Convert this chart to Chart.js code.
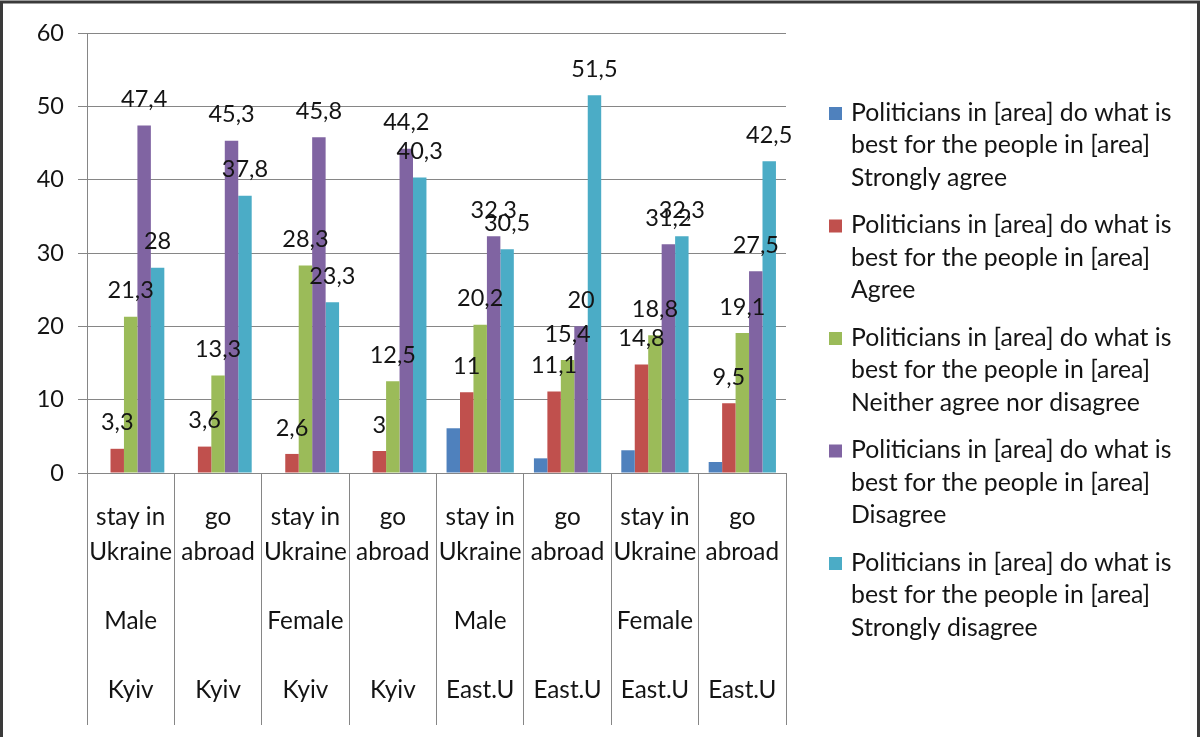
<!DOCTYPE html>
<html>
<head>
<meta charset="utf-8">
<script src="https://cdn.jsdelivr.net/npm/chart.js@4"></script>
<style>
  html, body { margin: 0; padding: 0; background: #fff; }
  #wrap { width: 1203px; height: 737px; }
</style>
</head>
<body>
<div id="wrap"><canvas id="ctx"></canvas></div>
<script>
// categories
const plans = ['stay in Ukraine', 'go abroad', 'stay in Ukraine', 'go abroad', 'stay in Ukraine', 'go abroad', 'stay in Ukraine', 'go abroad']
const genders = ['Male', '', 'Female', '', 'Male', '', 'Female', '']
const regions = ['Kyiv', 'Kyiv', 'Kyiv', 'Kyiv', 'East.U', 'East.U', 'East.U', 'East.U']

// series
const question = 'Politicians in [area] do what is best for the people in [area]'
const responses = ['Strongly agree', 'Agree', 'Neither agree nor disagree', 'Disagree', 'Strongly disagree']
const stronglyAgree = [0, 0, 0, 0, 6.1, 2, 3.1, 1.5]
const agree = [3.3, 3.6, 2.6, 3, 11, 11.1, 14.8, 9.5]
const neither = [21.3, 13.3, 28.3, 12.5, 20.2, 15.4, 18.8, 19.1]
const disagree = [47.4, 45.3, 45.8, 44.2, 32.3, 20, 31.2, 27.5]
const stronglyDisagree = [28, 37.8, 23.3, 40.3, 30.5, 51.5, 32.3, 42.5]

// y axis
const yTicks = [0, 10, 20, 30, 40, 50, 60]

const colors = ['#4F81BD', '#C0504D', '#9BBB59', '#8064A2', '#4BACC6']
const FONT = 'Lato'
const TEXT = '#141414'
const GRID = '#868686'

const wrap2 = s => {
  const i = s.lastIndexOf(' ')
  return [s.slice(0, i), s.slice(i + 1)]
}

const labels = plans.map((p, i) => [...wrap2(p), '', genders[i], '', regions[i]])

const splitAt = question.indexOf(' best')
const legendLines = responses.map(r => [question.slice(0, splitAt), question.slice(splitAt + 1), r])

const seriesValues = [stronglyAgree, agree, neither, disagree, stronglyDisagree]

const frame = {
  id: 'frame',
  beforeDraw: (chart) => {
    const {ctx, width, height} = chart
    ctx.save()
    ctx.fillStyle = '#fff'
    ctx.fillRect(0, 0, width, height)
    ctx.restore()
  },
  afterDraw: (chart) => {
    const {ctx, width, height} = chart
    ctx.save()
    ctx.strokeStyle = '#3a3a3a'
    ctx.lineWidth = 3
    ctx.beginPath()
    ctx.moveTo(1.5, height)
    ctx.lineTo(1.5, 2)
    ctx.lineTo(width - 4.5, 2)
    ctx.lineTo(width - 4.5, height)
    ctx.stroke()
    ctx.restore()
  }
}

const valueLabels = {
  id: 'valueLabels',
  afterDatasetsDraw: (chart) => {
    const {ctx} = chart
    ctx.save()
    ctx.font = '23.5px ' + FONT
    ctx.fillStyle = TEXT
    ctx.textAlign = 'center'
    ctx.textBaseline = 'middle'
    chart.data.datasets.forEach((ds, i) => {
      if (ds.showValues === false) return
      chart.getDatasetMeta(i).data.forEach((bar, j) => {
        ctx.fillText(String(ds.data[j]).replace('.', ','), bar.x, bar.y - 26)
      })
    })
    ctx.restore()
  }
}

const sideLegend = {
  id: 'sideLegend',
  afterDraw: (chart) => {
    const {ctx} = chart
    const x = 829, top = 113, lineH = 32.5, gap = 112.5
    ctx.save()
    ctx.font = '24.8px ' + FONT
    ctx.textBaseline = 'middle'
    chart.data.datasets.forEach((ds, i) => {
      const y0 = top + i * gap
      ctx.fillStyle = ds.backgroundColor
      ctx.fillRect(x, y0 - 6, 13, 13)
      ctx.fillStyle = TEXT
      ds.legendText.forEach((line, k) => ctx.fillText(line, x + 22, y0 + k * lineH))
    })
    ctx.restore()
  }
}

const data = {
  labels,
  datasets: seriesValues.map((vals, i) => ({
    label: question + ' ' + responses[i],
    legendText: legendLines[i],
    data: vals,
    backgroundColor: colors[i],
    showValues: i !== 0,
  }))
}

const chart = new Chart(document.getElementById('ctx'), {
  type: 'bar',
  data,
  options: {
    responsive: true,
    maintainAspectRatio: false,
    animation: false,
    categoryPercentage: 0.77,
    barPercentage: 1,
    layout: {padding: {top: 33, right: 417, left: 0, bottom: 0}},
    plugins: {
      legend: {display: false},
      tooltip: {enabled: false},
    },
    scales: {
      x: {
        grid: {offset: true, drawOnChartArea: false, tickLength: 252, color: GRID},
        border: {color: GRID},
        ticks: {
          font: {family: FONT, size: 24.3, lineHeight: 1.42},
          color: TEXT,
          padding: -225,
          maxRotation: 0,
          autoSkip: false,
        },
        afterFit: (s) => { s.height = 264 },
      },
      y: {
        min: 0,
        max: 60,
        afterBuildTicks: (s) => { s.ticks = yTicks.map(v => ({value: v})) },
        grid: {color: GRID, tickLength: 9},
        border: {color: GRID},
        ticks: {font: {family: FONT, size: 23.5}, color: TEXT, padding: 14},
        afterFit: (s) => { s.width = 87 },
      }
    }
  },
  plugins: [frame, valueLabels, sideLegend]
})
</script>
</body>
</html>
